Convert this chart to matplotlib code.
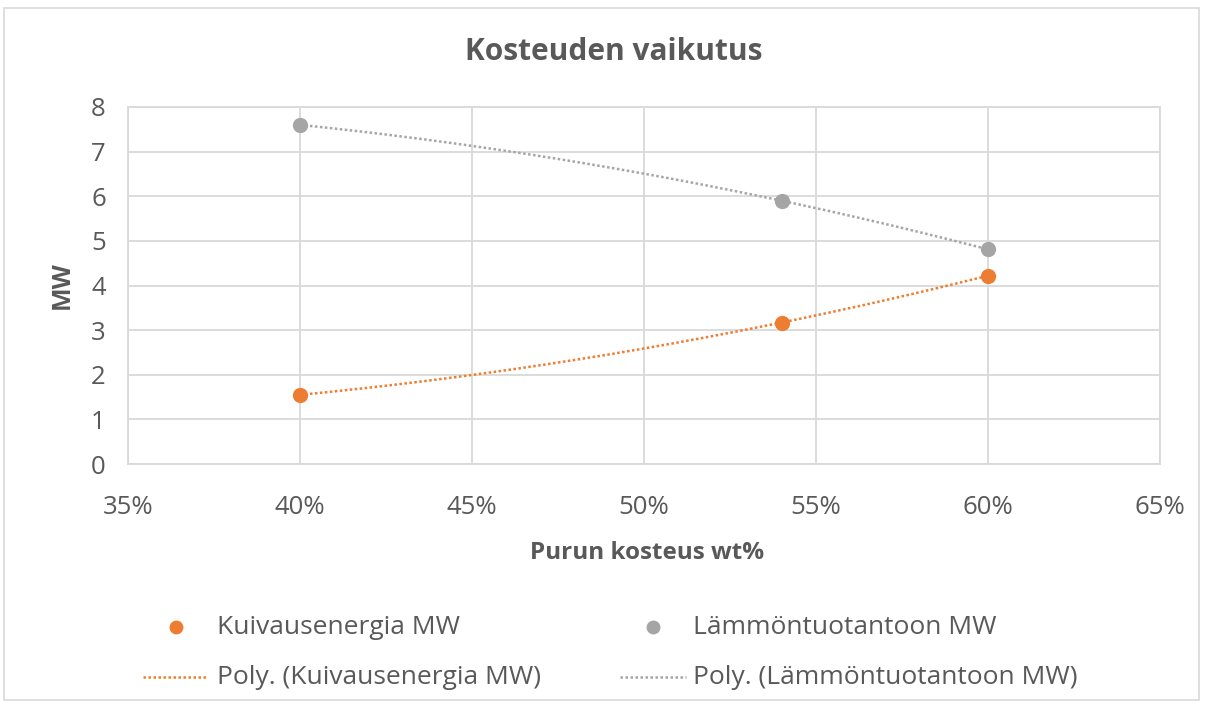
import numpy as np
import matplotlib
matplotlib.use("Agg")
import matplotlib.pyplot as plt
from matplotlib.lines import Line2D
from matplotlib.patches import Rectangle

# Data
moisture = [0.40, 0.54, 0.60]
kuivaus = [1.55, 3.17, 4.22]
lampo = [7.60, 5.90, 4.81]
x_ticks = [0.35, 0.40, 0.45, 0.50, 0.55, 0.60, 0.65]
x_ticklabels = ["35%", "40%", "45%", "50%", "55%", "60%", "65%"]
y_ticks = [0, 1, 2, 3, 4, 5, 6, 7, 8]
title = "Kosteuden vaikutus"
xlabel = "Purun kosteus wt%"
ylabel = "MW"
series_names = ["Kuivausenergia MW", "Lämmöntuotantoon MW"]

plt.rcParams["font.family"] = ["Open Sans", "DejaVu Sans"]

ORANGE = "#ED7D31"
GRAY = "#A5A5A5"
TXT = "#595959"
GRID = "#D9D9D9"

fig = plt.figure(figsize=(12.09, 7.07), dpi=100)
fig.patches.append(Rectangle((4/1209, 1 - 700/707), 1195/1209, 692/707, transform=fig.transFigure,
                             fill=False, edgecolor="#D9D9D9", linewidth=1.2))
ax = fig.add_axes([128/1209, 1 - 464/707, (1160-128)/1209, (464-107)/707])

xs = np.linspace(min(moisture), max(moisture), 200)
for ys, c in [(kuivaus, ORANGE), (lampo, GRAY)]:
    p = np.polyfit(moisture, ys, 2)
    ax.plot(xs, np.polyval(p, xs), color=c, linestyle=(0, (1, 1)), linewidth=1.8, zorder=2)
    ax.plot(moisture, ys, "o", color=c, markersize=11, zorder=3, markeredgewidth=0)

ax.set_xlim(0.35, 0.65)
ax.set_ylim(0, 8)
ax.set_xticks(x_ticks)
ax.set_xticklabels(x_ticklabels)
ax.set_yticks(y_ticks)
ax.grid(True, color=GRID, linewidth=1.3)
ax.set_axisbelow(True)
for s in ax.spines.values():
    s.set_color(GRID)
    s.set_linewidth(1.3)
ax.tick_params(length=0, labelsize=18.5, labelcolor=TXT)
ax.tick_params(axis="x", pad=22)
ax.tick_params(axis="y", pad=16)

fig.text(614/1209, 1 - 52/707, title, ha="center", va="center", fontsize=21.5, fontweight="bold", color=TXT)
fig.text(647/1209, 1 - 553/707, xlabel, ha="center", va="center", fontsize=17.5, fontweight="bold", color=TXT)
fig.text(62/1209, 1 - 285/707, ylabel, ha="center", va="center", fontsize=18, fontweight="bold", color=TXT, rotation=90)

# Legend (manual placement)
def leg_marker(x, y, c):
    fig.add_artist(Line2D([x/1209], [1 - y/707], marker="o", color=c, markersize=10, markeredgewidth=0,
                          linestyle="none", transform=fig.transFigure))
def leg_line(x0, x1, y, c):
    fig.add_artist(Line2D([x0/1209, x1/1209], [1 - y/707, 1 - y/707], color=c, linestyle=(0, (1, 1)),
                          linewidth=1.8, transform=fig.transFigure))

LFS = 19
leg_marker(176, 627, ORANGE)
fig.text(217/1209, 1 - 627/707, series_names[0], va="center", fontsize=LFS, color=TXT)
leg_marker(653, 627, GRAY)
fig.text(693/1209, 1 - 627/707, series_names[1], va="center", fontsize=LFS, color=TXT)
leg_line(143, 208, 677, ORANGE)
fig.text(217/1209, 1 - 677/707, f"Poly. ({series_names[0]})", va="center", fontsize=LFS, color=TXT)
leg_line(620, 686, 677, GRAY)
fig.text(693/1209, 1 - 677/707, f"Poly. ({series_names[1]})", va="center", fontsize=LFS, color=TXT)

fig.savefig("out.png", dpi=100)
